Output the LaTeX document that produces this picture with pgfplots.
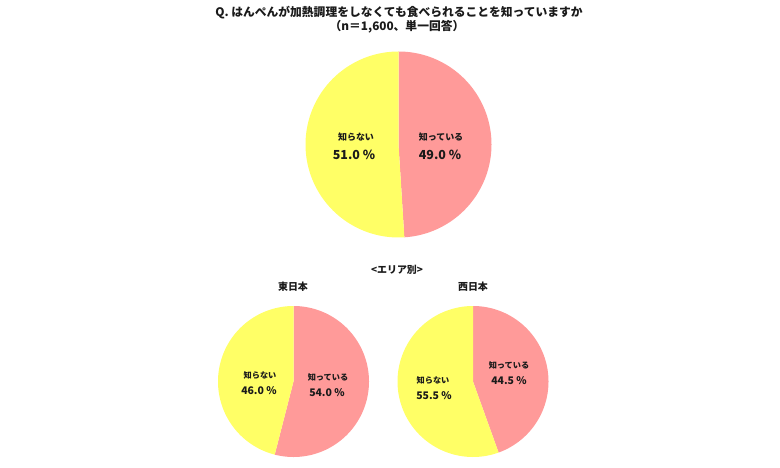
\documentclass[border=0pt]{standalone}
\usepackage{pgfplots}
\usepackage{pgfplotstable}
\pgfplotsset{compat=1.18}
\usepackage{fontspec}
\setmainfont{Noto Sans CJK JP}
\definecolor{pinkc}{HTML}{FF9A99}
\definecolor{yellowc}{HTML}{FFFF66}
\definecolor{txt}{HTML}{1A1A1A}

% pies: centre (px), radius (px), share "知っている" (%)
\pgfplotstableread{
cx    cy    r    know
398.5 322.5 93   49.0
293.5 85.5  75.5 54.0
473   85.5  75.5 44.5
}\pies

\begin{document}
\begin{tikzpicture}
\begin{axis}[
  width=780bp, height=467bp, scale only axis,
  xmin=0, xmax=780, ymin=0, ymax=467,
  hide axis, clip=false,
]
\path (axis cs:0,0) rectangle (axis cs:780,467);
\pgfplotsforeachungrouped \i in {0,1,2}{%
  \pgfplotstablegetelem{\i}{cx}\of\pies \let\cx\pgfplotsretval
  \pgfplotstablegetelem{\i}{cy}\of\pies \let\cy\pgfplotsretval
  \pgfplotstablegetelem{\i}{r}\of\pies \let\rr\pgfplotsretval
  \pgfplotstablegetelem{\i}{know}\of\pies \let\kn\pgfplotsretval
  \pgfmathsetmacro\angA{90-3.6*\kn}
  \pgfmathsetmacro\angB{450-3.6*\kn}
  \edef\cmd{%
    \noexpand\addplot[fill=pinkc, draw=none, domain=\angA:90, samples=150]
      ({\cx+\rr*cos(x)},{\cy+\rr*sin(x)}) -- (axis cs:\cx,\cy) -- cycle;
    \noexpand\addplot[fill=yellowc, draw=none, domain=90:\angB, samples=150]
      ({\cx+\rr*cos(x)},{\cy+\rr*sin(x)}) -- (axis cs:\cx,\cy) -- cycle;
  }%
  \cmd
}

% titles
\node[font=\bfseries\fontsize{11.8}{13}\selectfont, text=txt] at (axis cs:399,454) {Q. はんぺんが加熱調理をしなくても食べられることを知っていますか};
\node[font=\bfseries\fontsize{11.8}{13}\selectfont, text=txt] at (axis cs:397,440) {（n＝1,600、単一回答）};
\node[font=\bfseries\fontsize{10}{12}\selectfont, text=txt] at (axis cs:397,197) {<エリア別>};
\node[font=\bfseries\fontsize{10}{12}\selectfont, text=txt] at (axis cs:293,180) {東日本};
\node[font=\bfseries\fontsize{10}{12}\selectfont, text=txt] at (axis cs:473,180) {西日本};

% labels: main pie
\node[font=\bfseries\fontsize{9}{10}\selectfont, text=txt] at (axis cs:356,330) {知らない};
\node[font=\bfseries\fontsize{12.5}{14}\selectfont, text=txt] at (axis cs:354,312) {51.0 \%};
\node[font=\bfseries\fontsize{9}{10}\selectfont, text=txt] at (axis cs:441,330) {知っている};
\node[font=\bfseries\fontsize{12.5}{14}\selectfont, text=txt] at (axis cs:440,312) {49.0 \%};
% east
\node[font=\bfseries\fontsize{8.2}{10}\selectfont, text=txt] at (axis cs:260,92) {知らない};
\node[font=\bfseries\fontsize{10.5}{12}\selectfont, text=txt] at (axis cs:259,76) {46.0 \%};
\node[font=\bfseries\fontsize{8.2}{10}\selectfont, text=txt] at (axis cs:328,90) {知っている};
\node[font=\bfseries\fontsize{10.5}{12}\selectfont, text=txt] at (axis cs:327,74) {54.0 \%};
% west
\node[font=\bfseries\fontsize{8.2}{10}\selectfont, text=txt] at (axis cs:509,102) {知っている};
\node[font=\bfseries\fontsize{10.5}{12}\selectfont, text=txt] at (axis cs:509,86) {44.5 \%};
\node[font=\bfseries\fontsize{8.2}{10}\selectfont, text=txt] at (axis cs:433,87) {知らない};
\node[font=\bfseries\fontsize{10.5}{12}\selectfont, text=txt] at (axis cs:434,71) {55.5 \%};
\end{axis}
\end{tikzpicture}
\end{document}
